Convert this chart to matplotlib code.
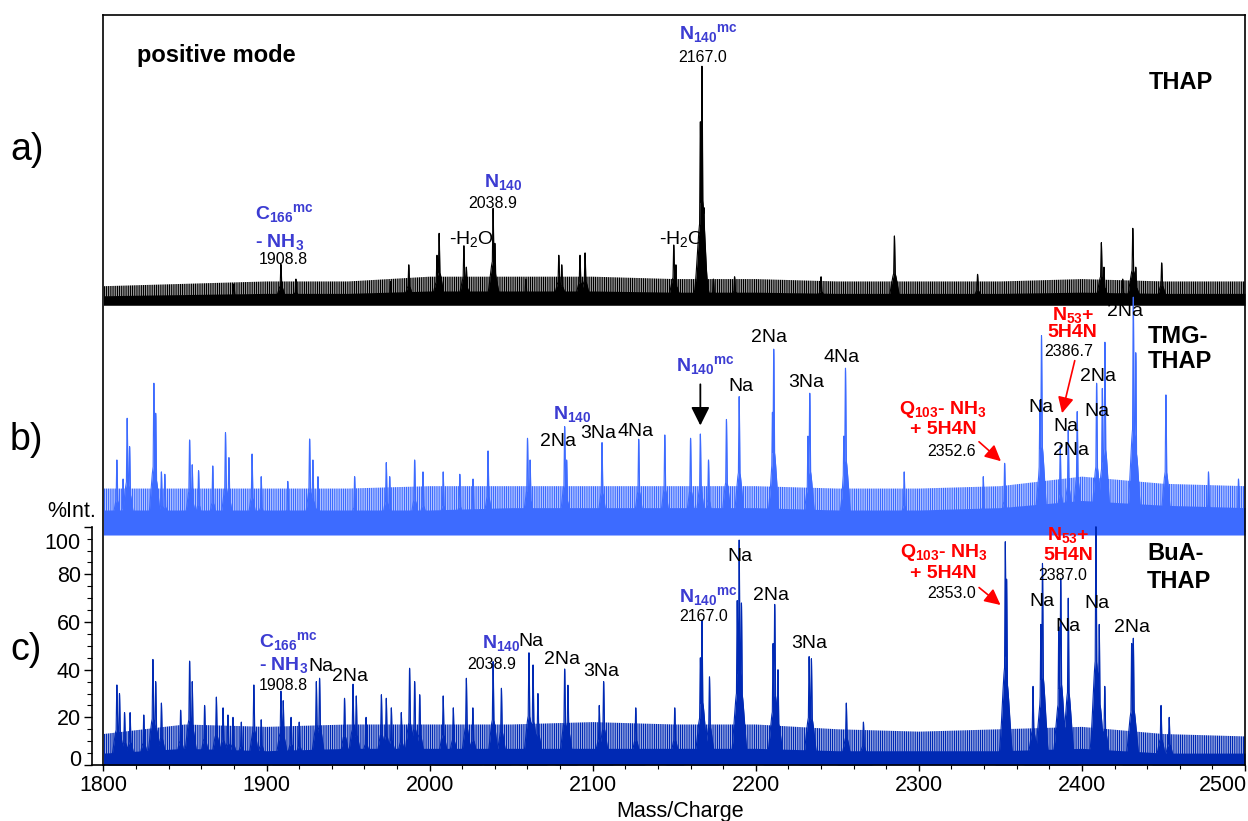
import numpy as np
import matplotlib
matplotlib.use("Agg")
import matplotlib.pyplot as plt
from matplotlib.ticker import FixedLocator, MultipleLocator
from matplotlib.transforms import ScaledTranslation

plt.rcParams['font.family'] = 'Liberation Sans'
plt.rcParams['mathtext.fontset'] = 'custom'
plt.rcParams['mathtext.rm'] = 'Liberation Sans'
plt.rcParams['mathtext.bf'] = 'Liberation Sans:bold'
plt.rcParams['mathtext.it'] = 'Liberation Sans:italic'
plt.rcParams['hatch.linewidth'] = 0.9

# ---- spectra: peak lists (m/z, intensity) ----
# THAP (top trace)
thap_mz = [1880.0, 1908.8, 1918.0, 1976.0, 1987.2, 2004.5, 2005.8, 2021.0, 2022.5,
           2038.9, 2040.0, 2059.0, 2079.2, 2081.0, 2092.2, 2095.3, 2149.7, 2151.0,
           2166.0, 2167.0, 2168.2, 2174.0, 2187.0, 2240.0, 2285.0, 2336.0, 2411.9,
           2413.5, 2425.0, 2431.2, 2433.0, 2448.9]
thap_int = [8, 16.2, 10, 9, 16, 20, 29.2, 24, 15,
            39.7, 25, 10, 20, 16, 20, 21, 24.3, 16,
            76, 99.3, 40, 10, 11, 11, 28.1, 12, 25.3,
            15, 10, 31.3, 15, 16.8]

# TMG-THAP (middle trace)
tmg_mz = [1808.2, 1812.0, 1814.5, 1816.0, 1830.9, 1832.0, 1835.5, 1837.6, 1852.8,
          1854.4, 1858.3, 1867.0, 1874.8, 1876.9, 1891.1, 1896.7, 1913.0, 1926.4,
          1928.4, 1931.5, 1954.0, 1973.4, 1975.5, 1990.8, 1995.9, 2008.3, 2018.5,
          2026.6, 2035.8, 2060.0, 2061.6, 2082.8, 2084.0, 2105.7, 2128.2, 2144.2,
          2160.0, 2166.0, 2171.0, 2182.0, 2189.8, 2210.2, 2211.0, 2232.0, 2233.1,
          2254.0, 2255.0, 2291.0, 2339.5, 2352.6, 2374.2, 2375.2, 2386.7, 2391.6,
          2397.1, 2409.0, 2412.5, 2414.1, 2431.5, 2433.0, 2451.5, 2477.6, 2496.0]
tmg_int = [30, 22, 47.5, 35.6, 62.2, 49.6, 25, 24, 38.4,
           28, 25.5, 27.5, 41.5, 31, 32.5, 23, 21, 38.8,
           30, 23, 23, 28.9, 23, 30, 25, 25, 24,
           22, 33.8, 39.1, 30, 44, 30, 37.3, 38.7, 40.5,
           39.1, 40.9, 30, 47, 56.6, 50, 76.5, 40, 58,
           40, 68.5, 25, 23, 28.6, 55, 82.2, 36, 42.6,
           50.3, 62.2, 60, 79.4, 98.3, 75, 57.3, 25, 22]

# BuA-THAP (bottom trace, %Int.)
bua_mz = [1808.2, 1809.8, 1812.9, 1816.3, 1824.7, 1830.3, 1832.0, 1835.5, 1847.3,
          1852.8, 1854.4, 1862.0, 1869.2, 1873.3, 1876.3, 1879.4, 1884.5, 1892.2,
          1896.7, 1908.8, 1910.2, 1915.0, 1920.0, 1930.5, 1932.5, 1947.8, 1953.0,
          1955.0, 1961.0, 1970.4, 1973.4, 1976.5, 1982.6, 1987.7, 1990.8, 1993.9,
          2008.3, 2014.5, 2022.5, 2026.5, 2038.9, 2044.0, 2060.9, 2063.4, 2066.4,
          2082.8, 2084.8, 2104.0, 2106.7, 2126.4, 2150.3, 2166.0, 2167.0, 2171.6,
          2188.6, 2189.8, 2191.2, 2210.6, 2211.6, 2213.6, 2232.7, 2234.1, 2255.5,
          2266.0, 2353.0, 2353.8, 2370.0, 2374.8, 2375.8, 2385.8, 2387.0, 2391.6,
          2408.6, 2410.6, 2414.0, 2430.5, 2431.5, 2448.5, 2453.5]
bua_int = [33.6, 30, 22, 22, 21, 44.3, 35, 26, 23,
           43.6, 35, 25, 28.5, 24, 21, 20, 18, 33.6,
           19, 31, 27, 20, 18, 35, 36.4, 28, 33.9,
           29, 20, 29.5, 28, 24, 22, 40.6, 35, 29.5,
           29, 24, 36.4, 24, 43.4, 32.2, 47.1, 42, 30,
           40.3, 33.5, 25, 35, 24, 24, 45, 60.8, 37,
           69, 94.4, 68, 51, 67.4, 40, 45.5, 44.6, 26,
           18, 93.7, 78, 33, 59, 84.6, 58, 78.3, 70,
           100, 59, 33, 51, 53.2, 25, 20]

# noise band (solid floor and ragged top) every 50 m/z
noise_mz = [1800, 1850, 1900, 1950, 2000, 2050, 2100, 2150, 2200, 2250, 2300, 2350, 2400, 2450, 2500]
thap_floor = [3, 3.5, 4, 4, 5, 5, 5, 4.5, 4.5, 4, 4, 4, 4.5, 4, 4]
thap_top = [7, 8, 9, 9, 11, 11, 11, 10, 10, 9, 9, 9, 10, 9, 9]
tmg_floor = [9, 9, 9, 9, 9, 10, 10, 10, 10, 9, 9, 10, 13, 11, 10]
tmg_top = [18, 18, 18, 18, 19, 19, 19, 19, 19, 18, 18, 19, 23, 20, 19]
bua_floor = [5, 7, 6, 7, 7, 7, 7, 7, 7, 6, 6, 6, 7, 5, 5]
bua_top = [13, 17, 16, 17, 17, 17, 18, 17, 17, 15, 14, 15, 16, 13, 12]

xticks = [1800, 1900, 2000, 2100, 2200, 2300, 2400, 2500]
yticks = [0, 20, 40, 60, 80, 100]

THAP_BASE = 193.9
TMG_BASE = 98.0

C_THAP = 'black'
C_TMG = '#3d6bff'
C_BUA = '#0029b4'
C_LBL = '#3c3cd2'
C_RED = '#ff0000'


def peak_trace(grid, mzs, ints):
    y = np.zeros_like(grid)
    for m, h in zip(mzs, ints):
        d = grid - m
        near = np.abs(d) < 9
        dn = d[near]
        shape = np.maximum(np.exp(-0.5 * (dn / 0.35) ** 2), 0.45 * np.exp(-0.5 * (dn / 1.8) ** 2))
        y[near] = np.maximum(y[near], h * shape)
    return y


def draw_trace(ax, mzs, ints, floor, top, base, color, below):
    floor = np.array(floor)
    top = np.array(top)
    ax.fill_between(noise_mz, base - below, base + floor, color=color, lw=0)
    # ragged upper part of the noise drawn as a dense vertical hatch
    ax.fill_between(noise_mz, base + floor - 0.5, base + top, facecolor='none',
                    edgecolor=color, hatch='|||||||||', lw=0)
    grid = np.arange(1800, 2500.01, 0.02)
    tr = peak_trace(grid, mzs, ints)
    ax.fill_between(grid, base, base + tr, color=color, lw=0)
    ax.plot(grid, base + tr, color=color, lw=0.8)


fig = plt.figure(figsize=(12.48, 8.21), dpi=100)
ax = fig.add_axes([103.5 / 1248, 56 / 821, 1141.5 / 1248, 750 / 821])

draw_trace(ax, thap_mz, thap_int, thap_floor, thap_top, THAP_BASE, C_THAP, 1.0)
draw_trace(ax, tmg_mz, tmg_int, tmg_floor, tmg_top, TMG_BASE, C_TMG, 1.5)
draw_trace(ax, bua_mz, bua_int, bua_floor, bua_top, 0.0, C_BUA, 0.0)

ax.set_xlim(1800, 2500)
ax.set_ylim(0, 314.7)

# axes frame: box plus an offset %Int. axis covering 0-100 only
for s in ax.spines.values():
    s.set_linewidth(1.2)
ax.spines['left'].set_position(('outward', 8.3))
ax.spines['left'].set_bounds(0, 100)
ax.axvline(1800, color='black', lw=1.2, clip_on=False)
ax.plot([-11.5 / 1141.5, 0], [0, 0], transform=ax.transAxes, color='black', lw=1.2, clip_on=False)

ax.xaxis.set_major_locator(FixedLocator(xticks))
ax.xaxis.set_minor_locator(MultipleLocator(20))
ax.yaxis.set_major_locator(FixedLocator(yticks))
ax.yaxis.set_minor_locator(FixedLocator(list(range(0, 101, 5))))
ax.tick_params(axis='x', which='major', direction='out', length=4.5, width=1.0, pad=3, labelsize=15.5)
ax.tick_params(axis='x', which='minor', direction='out', length=3, width=0.8)
ax.tick_params(axis='y', which='major', direction='out', length=6, width=1.0, pad=2, labelsize=15.5)
ax.tick_params(axis='y', which='minor', direction='out', length=3.5, width=0.8)

# keep the end labels inside the plotted range
yt = ax.yaxis.get_major_ticks()
yt[0].label1.set_transform(yt[0].label1.get_transform() + ScaledTranslation(0, 0.07, fig.dpi_scale_trans))
yt[-1].label1.set_transform(yt[-1].label1.get_transform() + ScaledTranslation(0, -0.14, fig.dpi_scale_trans))
xt = ax.xaxis.get_major_ticks()
xt[-1].label1.set_horizontalalignment('right')
xt[-1].label1.set_transform(xt[-1].label1.get_transform() + ScaledTranslation(0.02, 0, fig.dpi_scale_trans))

fig.text(96 / 1248, 1 - 511 / 821, '%Int.', ha='right', va='center', fontsize=15.5)
fig.text(680 / 1248, 1 - 811 / 821, 'Mass/Charge', ha='center', va='center', fontsize=15.5)

for lab, yy in [('a)', 150), ('b)', 440), ('c)', 650)]:
    fig.text(10 / 1248, 1 - yy / 821, lab, ha='left', va='center', fontsize=27)

BIG = 17
LBL = 14
NUM = 11.5

def blue(x, y, s, ha='left', va='baseline'):
    ax.text(x, y, s, color=C_LBL, fontsize=LBL, fontweight='bold', ha=ha, va=va)

def red(x, y, s, ha='center', va='baseline'):
    ax.text(x, y, s, color=C_RED, fontsize=LBL, fontweight='bold', ha=ha, va=va)

def black(x, y, s, ha='center', size=LBL):
    ax.text(x, y, s, color='black', fontsize=size, ha=ha, va='center')

# ---- a) THAP ----
ax.text(1820.5, 297.9, 'positive mode', fontsize=BIG, fontweight='bold', va='center')
ax.text(2441.1, 286.2, 'THAP', fontsize=BIG, fontweight='bold', va='center')
blue(1892.9, 229.2, r'C$_{\mathbf{166}}$$^{\mathbf{mc}}$')
blue(1892.9, 217.4, r'- NH$_{\mathbf{3}}$')
black(1910.1, 211.9, '1908.8', size=NUM)
blue(2033.3, 242.6, r'N$_{\mathbf{140}}$')
black(2038.9, 235.8, '2038.9', size=NUM)
ax.text(2011.9, 218.6, r'-H$_\mathrm{2}$O', fontsize=LBL, va='baseline')
ax.text(2140.6, 218.6, r'-H$_\mathrm{2}$O', fontsize=LBL, va='baseline')
blue(2152.9, 304.7, r'N$_{\mathbf{140}}$$^{\mathbf{mc}}$')
black(2167.5, 296.7, '2167.0', size=NUM)

# ---- b) TMG-THAP ----
ax.text(2440.5, 179.6, 'TMG-', fontsize=BIG, fontweight='bold', va='center')
ax.text(2440.5, 169.1, 'THAP', fontsize=BIG, fontweight='bold', va='center')
blue(2075.6, 145.3, r'N$_{\mathbf{140}}$')
black(2078.7, 135.7, '2Na')
black(2103.2, 138.9, '3Na')
black(2126.5, 139.9, '4Na')
blue(2151.1, 165.3, r'N$_{\mathbf{140}}$$^{\mathbf{mc}}$')
ax.annotate('', xy=(2166.0, 141.3), xytext=(2166.0, 160.9),
            arrowprops=dict(arrowstyle='-|>', color='black', lw=1.3, mutation_scale=28))
black(2190.6, 158.7, 'Na')
black(2208.4, 179.2, '2Na')
black(2230.8, 160.3, '3Na')
black(2252.9, 170.8, '4Na')
red(2315.1, 147.4, r'Q$_{\mathbf{103}}$- NH$_{\mathbf{3}}$')
red(2315.1, 140.6, '+ 5H4N', va='center')
black(2320.0, 131.5, '2352.6', size=NUM)
ax.annotate('', xy=(2351.6, 126.7), xytext=(2335.6, 136.4),
            arrowprops=dict(arrowstyle='-|>', color=C_RED, lw=1.2, mutation_scale=24))
red(2394.5, 186.7, r'N$_{\mathbf{53}}$+')
red(2393.9, 181.5, '5H4N', va='center')
black(2391.8, 173.4, '2386.7', size=NUM)
ax.annotate('', xy=(2387.4, 146.5), xytext=(2396.0, 170.8),
            arrowprops=dict(arrowstyle='-|>', color=C_RED, lw=1.2, mutation_scale=24))
black(2426.7, 190.2, '2Na')
black(2409.9, 163.2, '2Na')
black(2374.6, 150.2, 'Na')
black(2409.3, 148.3, 'Na')
black(2390.5, 142.0, 'Na')
black(2393.3, 131.9, '2Na')

# ---- c) BuA-THAP ----
ax.text(2439.9, 88.8, 'BuA-', fontsize=BIG, fontweight='bold', va='center')
ax.text(2439.9, 76.9, 'THAP', fontsize=BIG, fontweight='bold', va='center')
blue(1895.4, 49.5, r'C$_{\mathbf{166}}$$^{\mathbf{mc}}$')
blue(1895.4, 39.7, r'- NH$_{\mathbf{3}}$')
black(1925.4, 41.2, 'Na', ha='left')
black(1940.1, 37.1, '2Na', ha='left')
black(1910.1, 33.3, '1908.8', size=NUM)
blue(2032.1, 49.1, r'N$_{\mathbf{140}}$')
black(2054.2, 51.7, 'Na', ha='left')
black(2037.9, 42.0, '2038.9', size=NUM)
black(2081.2, 44.1, '2Na')
black(2105.1, 39.4, '3Na')
blue(2152.9, 68.4, r'N$_{\mathbf{140}}$$^{\mathbf{mc}}$')
black(2167.9, 62.2, '2167.0', size=NUM)
black(2190.0, 87.4, 'Na')
black(2209.6, 71.3, '2Na')
black(2232.9, 50.8, '3Na')
red(2315.4, 87.3, r'Q$_{\mathbf{103}}$- NH$_{\mathbf{3}}$')
red(2315.1, 80.4, '+ 5H4N', va='center')
black(2320.0, 72.1, '2353.0', size=NUM)
ax.annotate('', xy=(2351.4, 66.4), xytext=(2335.6, 75.2),
            arrowprops=dict(arrowstyle='-|>', color=C_RED, lw=1.2, mutation_scale=24))
red(2391.8, 94.4, r'N$_{\mathbf{53}}$+')
red(2391.5, 88.1, '5H4N', va='center')
black(2388.4, 79.7, '2387.0', size=NUM)
black(2375.2, 68.8, 'Na')
black(2391.2, 58.0, 'Na')
black(2409.3, 67.9, 'Na')
black(2430.4, 57.6, '2Na')

fig.savefig('out.png', dpi=100)
